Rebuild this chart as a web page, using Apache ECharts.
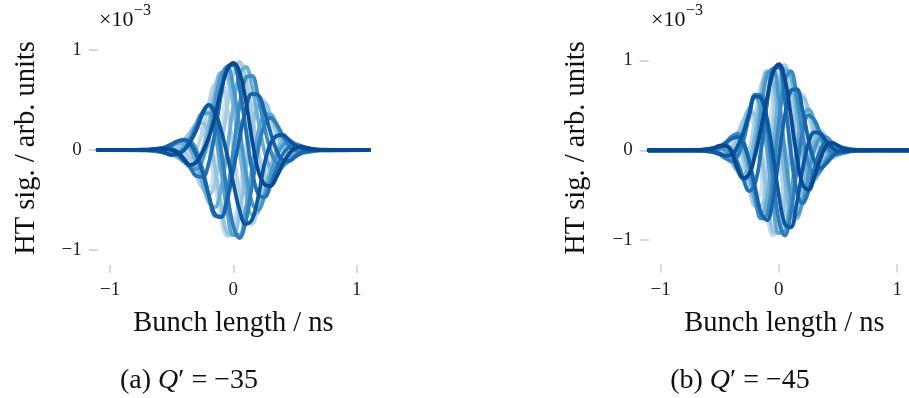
<!DOCTYPE html>
<html>
<head>
<meta charset="utf-8">
<script src="https://cdn.jsdelivr.net/npm/echarts@6/dist/echarts.min.js"></script>
<style>
html,body{margin:0;padding:0;background:#ffffff;}
#chart{width:909px;height:398px;}
</style>
</head>
<body>
<div id="chart"></div>
<script>
// ---- data (signal values in units of 1e-3) ----
const bunchPos = [-1.1, -0.7, -0.65, -0.6, -0.55, -0.5, -0.45, -0.4, -0.35, -0.3, -0.25, -0.2, -0.15, -0.1, -0.05, 0, 0.05, 0.1, 0.15, 0.2, 0.25, 0.3, 0.35, 0.4, 0.45, 0.5, 0.55, 0.6, 0.65, 0.7, 1.1];
const xTicks = [-1, 0, 1];
const yTicks = [-1, 0, 1];
const captionA = "−35";
const captionB = "−45";

// panel (a) Q' = -35, traces from earliest (light) to latest (dark)
const a01 = [0, .001,.006,.017,.029,.035,.021,-.031,-.127,-.261,-.367,-.368,-.171,.199,.608,.85,.85,.587,.192,-.161,-.346,-.357,-.251,-.12,-.028,.017,.028,.021,.01,.003, 0];
const a02 = [0, -.003,-.009,-.016,-.015,0,.04,.104,.18,.234,.19,0,-.33,-.667,-.86,-.762,-.44,0,.37,.537,.49,.32,.13,0,-.055,-.056,-.04,-.019,-.005,0, 0];
const a03 = [0, .003,.005,0,-.015,-.043,-.08,-.104,-.09,0,.19,.45,.66,.667,.43,0,-.44,-.719,-.74,-.537,-.245,0,.13,.147,.11,.056,.02,0,-.005,-.003, 0];
const a04 = [0, 0,.005,.016,.03,.043,.04,0,-.09,-.234,-.38,-.45,-.33,0,.43,.762,.88,.719,.37,0,-.245,-.32,-.26,-.147,-.055,0,.02,.019,.01,.003, 0];
const a05 = [0, -.003,-.009,-.017,-.021,-.013,.021,.085,.174,.261,.269,.135,-.171,-.544,-.831,-.85,-.622,-.215,.192,.438,.473,.357,.184,.044,-.028,-.046,-.039,-.021,-.007,-.001, 0];
const a06 = [0, .004,.008,.009,0,-.025,-.069,-.12,-.156,-.135,0,.26,.572,.77,.745,.44,0,-.415,-.641,-.62,-.424,-.185,0,.085,.095,.065,.035,.011,0,-.002, 0];
const a07 = [0, -.002,0,.009,.026,.05,.069,.06,0,-.135,-.329,-.52,-.572,-.385,0,.44,.762,.83,.641,.31,0,-.185,-.225,-.17,-.095,-.033,0,.011,.009,.004, 0];
const a08 = [0, -.001,-.006,-.017,-.029,-.035,-.021,.031,.127,.261,.367,.368,.171,-.199,-.608,-.85,-.85,-.587,-.192,.161,.346,.357,.251,.12,.028,-.017,-.028,-.021,-.01,-.003, 0];
const a09 = [0, .004,.009,.013,.008,-.013,-.057,-.116,-.174,-.191,-.098,.135,.467,.744,.831,.622,.228,-.215,-.523,-.599,-.473,-.262,-.067,.044,.078,.063,.039,.016,.003,-.001, 0];
const a10 = [0, -.003,-.005,0,.015,.043,.08,.104,.09,0,-.19,-.45,-.66,-.667,-.43,0,.44,.719,.74,.537,.245,0,-.13,-.147,-.11,-.056,-.02,0,.005,.003, 0];
const a11 = [0, 0,-.005,-.016,-.03,-.043,-.04,0,.09,.234,.38,.45,.33,0,-.43,-.762,-.88,-.719,-.37,0,.245,.32,.26,.147,.055,0,-.02,-.019,-.01,-.003, 0];
const a12 = [0, .003,.009,.017,.021,.013,-.021,-.085,-.174,-.261,-.269,-.135,.171,.544,.831,.85,.622,.215,-.192,-.438,-.473,-.357,-.184,-.044,.028,.046,.039,.021,.007,.001, 0];
const a13 = [0, 0,.003,.01,.03,.06,.09,.1,.06,-.05,-.22,-.45,-.64,-.67,-.5,-.2,.12,.4,.56,.55,.4,.18,0,-.1,-.11,-.07,-.03,-.01,-.003,0, 0];
const a14 = [0, 0,-.003,-.01,-.03,-.05,-.04,0,.08,.2,.36,.45,.38,.2,-.05,-.33,-.6,-.74,-.7,-.48,-.15,.06,.14,.15,.1,.05,.02,.005,0,0, 0];
const a15 = [0, .002,.005,.01,.01,0,-.03,-.1,-.15,-.12,-.02,.12,.33,.6,.8,.87,.78,.5,.12,-.2,-.34,-.36,-.27,-.14,-.04,.02,.03,.02,.008,.002, 0];

// panel (b) Q' = -45
const b01 = [0, -.003,-.004,0,.016,.048,.086,.088,0,-.2,-.456,-.59,-.447,0,.559,.922,.903,.517,0,-.365,-.456,-.323,-.135,0,.053,.048,.027,.009,0,-.002, 0];
const b02 = [0, .001,-.002,-.012,-.028,-.04,-.028,.046,.186,.34,.388,.192,-.235,-.712,-.95,-.785,-.294,.272,.615,.62,.388,.105,-.071,-.121,-.09,-.04,-.009,.005,.006,.003, 0];
const b03 = [0, .002,.007,.014,.016,0,-.053,-.143,-.219,-.2,0,.365,.723,.837,.559,0,-.559,-.837,-.723,-.365,0,.2,.219,.143,.053,0,-.016,-.014,-.007,-.002, 0];
const b04 = [0, -.003,-.006,-.005,.009,.04,.09,.121,.071,-.105,-.388,-.62,-.615,-.272,.294,.785,.95,.712,.235,-.192,-.388,-.34,-.186,-.046,.028,.04,.028,.012,.002,-.001, 0];
const b05 = [0, .002,0,-.009,-.027,-.048,-.053,0,.135,.323,.456,.365,0,-.517,-.903,-.922,-.559,0,.447,.59,.456,.2,0,-.088,-.086,-.048,-.016,0,.004,.003, 0];
const b06 = [0, .001,.006,.015,.023,.015,-.028,-.121,-.23,-.275,-.148,.192,.615,.88,.769,.3,-.294,-.712,-.76,-.502,-.148,.105,.186,.15,.073,.015,-.009,-.012,-.007,-.002, 0];
const b07 = [0, -.003,-.007,-.009,0,.029,.086,.143,.135,0,-.282,-.59,-.723,-.517,0,.57,.903,.837,.447,0,-.282,-.323,-.219,-.088,0,.029,.027,.014,.004,0, 0];
const b08 = [0, .003,.004,0,-.016,-.048,-.086,-.088,0,.2,.456,.59,.447,0,-.559,-.922,-.903,-.517,0,.365,.456,.323,.135,0,-.053,-.048,-.027,-.009,0,.002, 0];
const b09 = [0, 0,.004,.014,.027,.029,0,-.088,-.219,-.323,-.282,0,.447,.837,.903,.57,0,-.517,-.723,-.59,-.282,0,.135,.143,.086,.029,0,-.009,-.007,-.003, 0];
const b10 = [0, -.002,-.007,-.012,-.009,.015,.073,.15,.186,.105,-.148,-.502,-.76,-.712,-.294,.3,.769,.88,.615,.192,-.148,-.275,-.23,-.121,-.028,.015,.023,.015,.006,.001, 0];
const b11 = [0, .003,.006,.005,-.009,-.04,-.09,-.121,-.071,.105,.388,.62,.615,.272,-.294,-.785,-.95,-.712,-.235,.192,.388,.34,.186,.046,-.028,-.04,-.028,-.012,-.002,.001, 0];
const b12 = [0, -.002,0,.009,.027,.048,.053,0,-.135,-.323,-.456,-.365,0,.517,.903,.922,.559,0,-.447,-.59,-.456,-.2,0,.088,.086,.048,.016,0,-.004,-.003, 0];
const b13 = [0, 0,.003,.01,.02,.04,.08,.13,.15,.08,-.12,-.42,-.7,-.78,-.55,-.08,.38,.66,.68,.45,.12,-.12,-.2,-.15,-.07,-.02,0,.004,.002,0, 0];
const b14 = [0, 0,-.003,-.01,-.02,-.04,-.06,-.05,.04,.2,.4,.6,.58,.35,-.05,-.5,-.82,-.86,-.6,-.22,.08,.2,.19,.1,.03,-.01,-.015,-.008,-.003,0, 0];
const b15 = [0, 0,.003,.01,.02,.05,.05,-.02,-.2,-.31,-.26,-.05,.25,.58,.86,.96,.8,.4,-.05,-.38,-.44,-.3,-.1,.05,.08,.05,.02,.005,0,0, 0];

const panelA = [a01,a02,a03,a04,a05,a06,a07,a08,a09,a10,a11,a12,a13,a14,a15];
const panelB = [b01,b02,b03,b04,b05,b06,b07,b08,b09,b10,b11,b12,b13,b14,b15];

// ---- styles ----
const traceColors = ['#d0e1f2','#c6dbef','#b6d4e9','#a6cde4','#94c4df','#7fb9da','#6baed6','#5ba3d0',
                     '#4a98c9','#3b8bc2','#2e7ebc','#2171b5','#1764ab','#0d57a1','#084a92'];
const SERIF = '"Liberation Serif", "DejaVu Serif", serif';
const tickGrey = '#cfcfcf';
const minus = v => (v < 0 ? '\u2212' + Math.abs(v) : String(v));

const chart = echarts.init(document.getElementById('chart'), null, {renderer: 'canvas', width: 909, height: 398});

const grids = [
  {left: 97.7, top: 50, width: 271.3, height: 200},
  {left: 648.7, top: 60.5, width: 270.6, height: 179.5}
];
const xOffsets = [15, 24.5];

function xAxisFor(i) {
  return {
    type: 'value', gridIndex: i, min: -1.1, max: 1.1, offset: xOffsets[i], position: 'bottom',
    axisLine: {show: false, onZero: false},
    splitLine: {show: false},
    axisTick: {show: true, length: 8, customValues: xTicks, lineStyle: {color: tickGrey, width: 1.6}},
    axisLabel: {show: true, customValues: xTicks, margin: 16, formatter: minus,
                fontFamily: SERIF, fontSize: 19, color: '#222'}
  };
}
function yAxisFor(i) {
  return {
    type: 'value', gridIndex: i, min: -1, max: 1, interval: 1, offset: 0, position: 'left',
    axisLine: {show: false, onZero: false},
    splitLine: {show: false},
    axisTick: {show: true, length: 9, lineStyle: {color: tickGrey, width: 1.6}},
    axisLabel: {show: true, margin: 16, formatter: minus,
                fontFamily: SERIF, fontSize: 19, color: '#222'}
  };
}

const series = [];
[panelA, panelB].forEach((panel, p) => {
  panel.forEach((vals, i) => {
    series.push({
      type: 'line', xAxisIndex: p, yAxisIndex: p,
      data: bunchPos.map((x, k) => [x, vals[k]]),
      showSymbol: false, symbol: 'none', smooth: 0.4, silent: true,
      lineStyle: {color: traceColors[i], width: 3.8, join: 'round', cap: 'round'},
      z: 2 + i * 0.01
    });
  });
});

function txt(x, y, text, size, extra) {
  return Object.assign({
    type: 'text', x: x, y: y, silent: true,
    style: Object.assign({text: text, fontFamily: SERIF, fontSize: size, fill: '#111',
                          align: 'center', verticalAlign: 'middle'}, (extra && extra.style) || {})
  }, extra && extra.rotation ? {rotation: extra.rotation} : {});
}
function caption(x, y, letter, val) {
  return {
    type: 'text', x: x, y: y, silent: true,
    style: {
      text: '{n|(' + letter + ') }{i|Q}{n|\u2032 = ' + val + '}',
      align: 'center', verticalAlign: 'middle', fill: '#111',
      rich: {
        n: {fontFamily: SERIF, fontSize: 28, fill: '#111'},
        i: {fontFamily: SERIF, fontSize: 28, fontStyle: 'italic', fill: '#111'}
      }
    }
  };
}

const graphic = [
  txt(27, 148, 'HT sig. / arb. units', 28.5, {rotation: Math.PI / 2}),
  txt(577, 148, 'HT sig. / arb. units', 28.5, {rotation: Math.PI / 2}),
  txt(233.5, 324, 'Bunch length / ns', 28.5),
  txt(784.5, 324, 'Bunch length / ns', 28.5),
  txt(99, 20, '\u00d710', 22, {style: {align: 'left'}}),
  txt(134, 11, '\u22123', 16, {style: {align: 'left'}}),
  txt(651, 20, '\u00d710', 22, {style: {align: 'left'}}),
  txt(686, 11, '\u22123', 16, {style: {align: 'left'}}),
  caption(189, 381, 'a', captionA),
  caption(740, 381, 'b', captionB)
];

chart.setOption({
  animation: false,
  backgroundColor: '#ffffff',
  grid: grids,
  xAxis: [xAxisFor(0), xAxisFor(1)],
  yAxis: [yAxisFor(0), yAxisFor(1)],
  series: series,
  graphic: graphic
});
</script>
</body>
</html>
